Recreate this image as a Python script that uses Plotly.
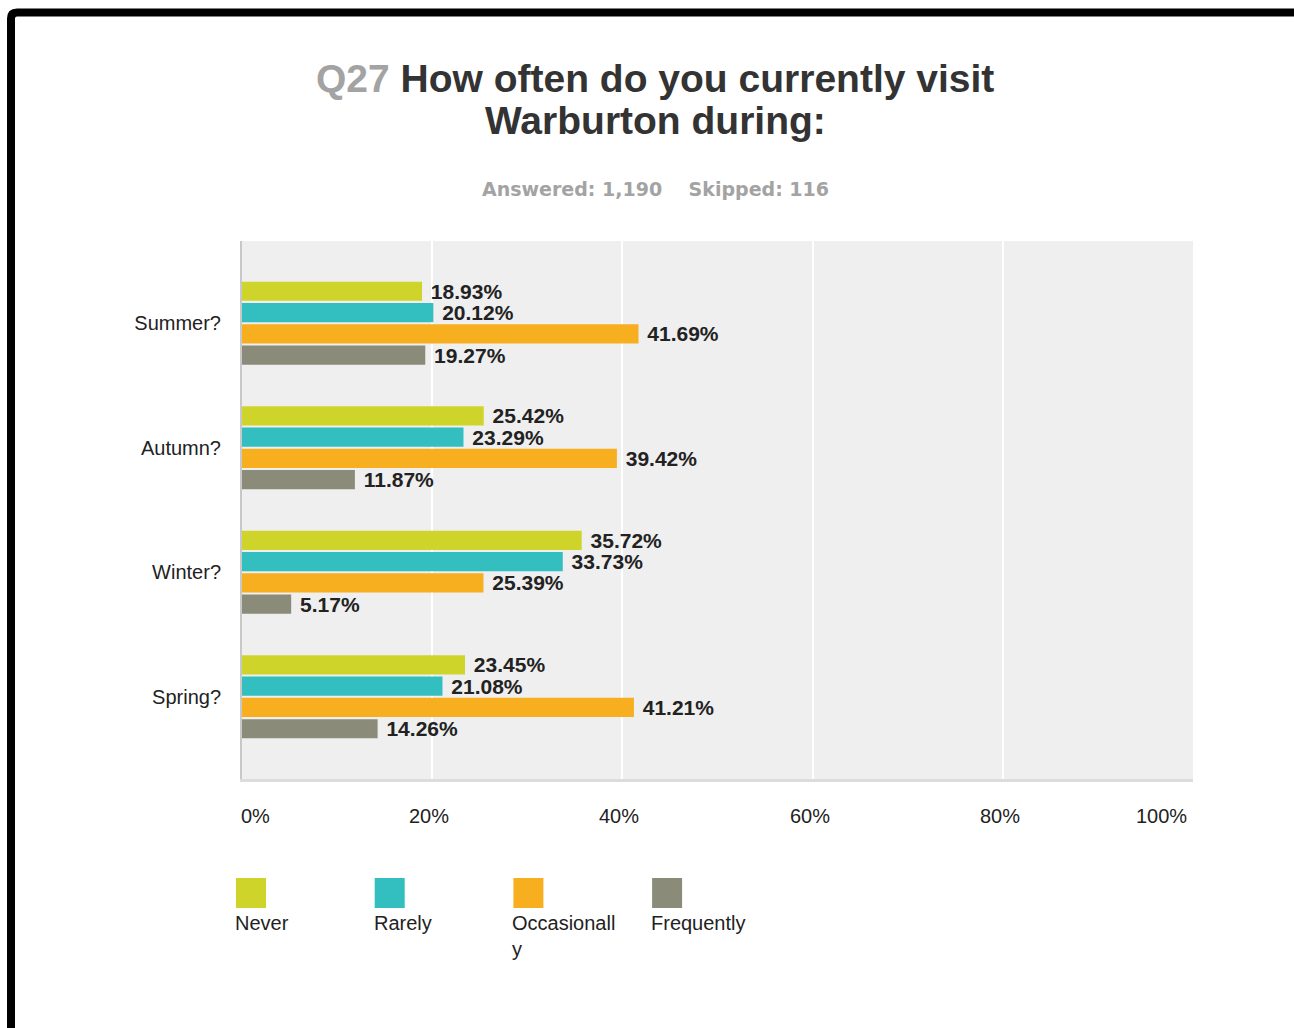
import plotly.graph_objects as go

# ---- data -------------------------------------------------------------
seasons = ["Summer?", "Autumn?", "Winter?", "Spring?"]
series = ["Never", "Rarely", "Occasionally", "Frequently"]
never = [18.93, 25.42, 35.72, 23.45]
rarely = [20.12, 23.29, 33.73, 21.08]
occasionally = [41.69, 39.42, 25.39, 41.21]
frequently = [19.27, 11.87, 5.17, 14.26]
x_ticks = [0, 20, 40, 60, 80, 100]
x_tick_labels = ["0%", "20%", "40%", "60%", "80%", "100%"]
title_number = "Q27"
title_lines = ["How often do you currently visit", "Warburton during:"]
answered = 1190
skipped = 116

colors = ["#cfd42a", "#33bec0", "#f7ae1f", "#8b8b7a"]
values = [never, rarely, occasionally, frequently]

# ---- page geometry (pixels) -------------------------------------------
W, H = 1294, 1028
L, R, T, B = 242, 101, 241, 249
PW, PH = W - L - R, H - T - B


def px(xp):
    return (xp - L) / PW


def py(yp):
    return (H - B - yp) / PH


FONT = "Liberation Sans, Arial, sans-serif"
TEXT = "#222222"

fig = go.Figure()
for name, vals, col in zip(series, values, colors):
    fig.add_trace(go.Bar(
        name=name, y=seasons, x=vals, orientation="h",
        marker=dict(color=col, line=dict(width=0)),
        texttemplate=" %{x:.2f}%", textposition="outside",
        constraintext="none", cliponaxis=False,
        textfont=dict(family=FONT, size=21, color=TEXT, weight="bold"),
        showlegend=False,
    ))

annotations = []
# title
annotations.append(dict(
    text=f"<span style='color:#a3a3a3'>{title_number}</span> {title_lines[0]}",
    x=px(655), y=py(78.5), xref="paper", yref="paper",
    xanchor="center", yanchor="middle", showarrow=False,
    font=dict(family=FONT, size=39, color="#333333", weight="bold"),
))
annotations.append(dict(
    text=title_lines[1],
    x=px(655), y=py(121), xref="paper", yref="paper",
    xanchor="center", yanchor="middle", showarrow=False,
    font=dict(family=FONT, size=39, color="#333333", weight="bold"),
))
# response counts
annotations.append(dict(
    text=f"Answered: {answered:,}" + "\u00a0" * 4 + f"Skipped: {skipped}",
    x=px(655), y=py(189), xref="paper", yref="paper",
    xanchor="center", yanchor="middle", showarrow=False,
    font=dict(family="DejaVu Sans, Verdana, sans-serif", size=19,
              color="#a3a3a3", weight="bold"),
))
# x tick labels
for i, (tv, tl) in enumerate(zip(x_ticks, x_tick_labels)):
    if i == 0:
        anchor, shift = "left", -3
    elif i == len(x_ticks) - 1:
        anchor, shift = "right", -4
    else:
        anchor, shift = "center", -3
    annotations.append(dict(
        text=tl, x=tv, xref="x", y=py(815.5), yref="paper",
        xanchor=anchor, yanchor="middle", xshift=shift, showarrow=False,
        font=dict(family=FONT, size=20, color=TEXT),
    ))

# legend: swatch above, wrapped label below
shapes = []
LEG_X0, LEG_STEP, SW = 236, 138.7, 30
LEG_Y0 = 878
WRAP = 11
for i, (name, col) in enumerate(zip(series, colors)):
    x0 = LEG_X0 + i * LEG_STEP
    shapes.append(dict(
        type="rect", xref="paper", yref="paper",
        x0=px(x0), x1=px(x0 + SW), y0=py(LEG_Y0 + SW), y1=py(LEG_Y0),
        fillcolor=col, line=dict(width=0),
    ))
    label = "<br>".join(name[k:k + WRAP] for k in range(0, len(name), WRAP))
    annotations.append(dict(
        text=label, x=px(x0 - 3), y=py(910), xref="paper", yref="paper",
        xanchor="left", yanchor="top", align="left", showarrow=False,
        font=dict(family=FONT, size=20, color=TEXT),
    ))

# page frame (top and left edges)
fx, fy, r = 11, 12.5, 6
shapes.append(dict(
    type="path", xref="paper", yref="paper",
    path=(f"M {px(fx)},{py(H + 20)} L {px(fx)},{py(fy + r)} "
          f"Q {px(fx)},{py(fy)} {px(fx + r)},{py(fy)} L {px(W + 20)},{py(fy)}"),
    line=dict(color="black", width=8),
))

fig.update_layout(
    width=W, height=H,
    margin=dict(l=L, r=R, t=T, b=B, pad=0),
    paper_bgcolor="white", plot_bgcolor="#efefef",
    barmode="group", bargap=0.317, bargroupgap=0.1,
    annotations=annotations, shapes=shapes,
    font=dict(family=FONT, size=20, color=TEXT),
)
fig.update_xaxes(
    range=[0, 100], tickvals=x_ticks, showticklabels=False,
    showgrid=True, gridcolor="white", gridwidth=2, zeroline=False,
    showline=True, linecolor="#dcdcdc", linewidth=3, fixedrange=True,
)
fig.update_yaxes(
    type="category", categoryorder="array", categoryarray=seasons,
    range=[3.66, -0.66], showgrid=False, zeroline=False,
    showline=True, linecolor="#c8c8c8", linewidth=2,
    ticks="", ticklabelstandoff=15,
    tickfont=dict(family=FONT, size=20, color=TEXT), fixedrange=True,
)

fig.write_html("out.html")
